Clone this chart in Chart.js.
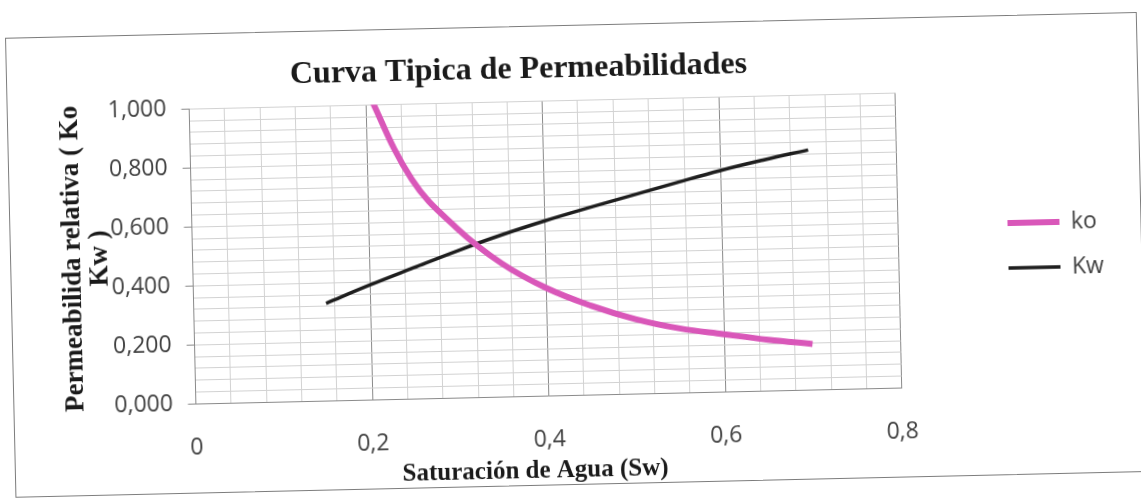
<!DOCTYPE html>
<html lang="es">
<head>
<meta charset="utf-8">
<title>Curva Tipica de Permeabilidades</title>
<script src="https://cdn.jsdelivr.net/npm/chart.js@4.4.1/dist/chart.umd.min.js"></script>
<style>
  html, body { margin: 0; padding: 0; background: #fff; overflow: hidden; width: 1141px; height: 501px; }
  /* the printed sheet sits slightly tilted */
  #sheet { position: absolute; left: 0; top: 0; width: 1141px; height: 501px;
           transform: rotate(-1.3deg); transform-origin: 50% 50%; }
  #frame { position: absolute; left: 10px; top: 25px; width: 1132px; height: 460px;
           box-sizing: border-box; border: 1.5px solid #7d7d7d; }
  #plot  { position: absolute; left: 0; top: 0; width: 1141px; height: 501px; }
</style>
</head>
<body>
<div id="sheet">
  <div id="frame"></div>
  <div id="plot"><canvas id="chart"></canvas></div>
</div>
<script>
// Water saturation (Sw) and relative permeabilities
const SW_KO = [0.20, 0.25, 0.30, 0.35, 0.40, 0.45, 0.50, 0.55, 0.60, 0.65, 0.70];
const KO    = [1.06, 0.745, 0.575, 0.452, 0.365, 0.302, 0.253, 0.218, 0.195, 0.173, 0.155];
const SW_KW = [0.15, 0.20, 0.25, 0.30, 0.35, 0.40, 0.45, 0.50, 0.55, 0.60, 0.65, 0.70];
const KW    = [0.33, 0.389, 0.444, 0.498, 0.548, 0.593, 0.634, 0.673, 0.712, 0.75, 0.783, 0.813];

const SERIES_NAMES  = ['ko', 'Kw'];
const X_TICK_LABELS = ['0', '0,2', '0,4', '0,6', '0,8'];
const Y_TICK_LABELS = ['0,000', '0,200', '0,400', '0,600', '0,800', '1,000'];
const CHART_TITLE   = 'Curva Tipica de Permeabilidades';
const X_TITLE       = 'Saturación de Agua (Sw)';
const Y_TITLE       = ['Permeabilida relativa ( Ko', 'Kw )'];

const MAJOR = 0.2;   // labelled gridline step
const MINOR = 0.04;  // light gridline step

function majorIndex(v) {
  const k = Math.round(v / MAJOR);
  return Math.abs(v - k * MAJOR) < 1e-6 ? k : -1;
}

const TICK_FONT = { family: 'Open Sans', size: 23 };
const TICK_COLOR = '#404040';
const MINOR_GRID = '#d2d2d2';
const MAJOR_GRID = '#8a8a8a';

// chart title and x-axis caption
const captions = {
  id: 'captions',
  afterDraw(chart) {
    const { ctx, chartArea: a } = chart;
    ctx.save();
    ctx.fillStyle = '#1a1a1a';
    ctx.textAlign = 'center';
    ctx.textBaseline = 'alphabetic';
    ctx.font = 'bold 32px "Liberation Serif"';
    ctx.fillText(CHART_TITLE, a.left + 330, a.top - 23);
    ctx.font = 'bold 25px "Liberation Serif"';
    ctx.fillText(X_TITLE, a.left + 338, a.bottom + 82);
    ctx.restore();
  }
};

new Chart(document.getElementById('chart'), {
  type: 'line',
  data: {
    datasets: [
      {
        label: SERIES_NAMES[0],
        data: SW_KO.map((x, i) => ({ x, y: KO[i] })),
        borderColor: '#d957b9',
        backgroundColor: '#d957b9',
        borderWidth: 6,
        pointRadius: 0,
        tension: 0.4,
        fill: false
      },
      {
        label: SERIES_NAMES[1],
        data: SW_KW.map((x, i) => ({ x, y: KW[i] })),
        borderColor: '#1e1e1e',
        backgroundColor: '#1e1e1e',
        borderWidth: 3.5,
        pointRadius: 0,
        tension: 0.4,
        fill: false
      }
    ]
  },
  options: {
    responsive: true,
    maintainAspectRatio: false,
    animation: false,
    layout: { padding: { left: 0, top: 100.2, right: 35, bottom: 0 } },
    plugins: {
      tooltip: { enabled: false },
      title: { display: false },
      legend: {
        position: 'right',
        align: 'center',
        fullSize: false,
        maxWidth: 120,
        title: { display: true, text: '', font: { size: 13, lineHeight: 1.2 }, padding: 0 },
        labels: {
          usePointStyle: true,
          pointStyle: 'line',
          pointStyleWidth: 52,
          padding: 22,
          color: TICK_COLOR,
          font: TICK_FONT
        }
      }
    },
    scales: {
      x: {
        type: 'linear',
        min: 0,
        max: 0.8,
        afterFit(s) { s.height = 105.8; },
        ticks: {
          stepSize: MINOR,
          autoSkip: false,
          maxRotation: 0,
          padding: 30.6,
          color: TICK_COLOR,
          font: TICK_FONT,
          callback: v => { const k = majorIndex(v); return k >= 0 ? X_TICK_LABELS[k] : ''; }
        },
        grid: {
          drawTicks: false,
          lineWidth: 1,
          color: c => (majorIndex(c.tick.value) > 0 ? MAJOR_GRID : MINOR_GRID)
        },
        border: { color: MAJOR_GRID, width: 1 }
      },
      y: {
        type: 'linear',
        min: 0,
        max: 1,
        afterFit(s) { s.width = 192.6; },
        ticks: {
          stepSize: MINOR,
          autoSkip: false,
          padding: 15,
          color: TICK_COLOR,
          font: TICK_FONT,
          callback: v => { const k = majorIndex(v); return k >= 0 ? Y_TICK_LABELS[k] : ''; }
        },
        grid: {
          lineWidth: 1,
          color: MINOR_GRID,
          tickLength: 8,
          tickColor: c => (majorIndex(c.tick.value) >= 0 ? MAJOR_GRID : 'rgba(0,0,0,0)')
        },
        border: { color: MAJOR_GRID, width: 1 },
        title: {
          display: true,
          text: Y_TITLE,
          color: '#1a1a1a',
          font: { family: 'Liberation Serif', size: 27, weight: 'bold', lineHeight: 1.0 },
          padding: { top: 59.5, bottom: 0 }
        }
      },
      gap: {
        type: 'linear',
        position: 'right',
        display: true,
        afterFit(s) { s.width = 87.4; },
        grid: { display: false, drawTicks: false },
        border: { display: false },
        ticks: { display: false }
      }
    }
  },
  plugins: [captions]
});
</script>
</body>
</html>
